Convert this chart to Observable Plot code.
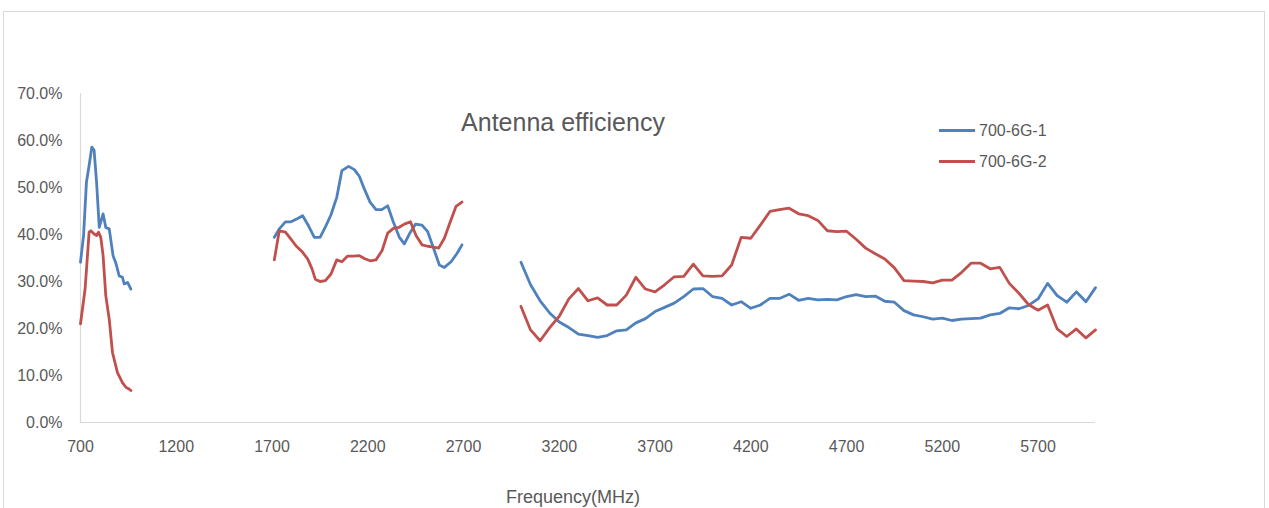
<!DOCTYPE html>
<html>
<head>
<meta charset="utf-8">
<script src="https://cdn.jsdelivr.net/npm/d3@7"></script>
<script src="https://cdn.jsdelivr.net/npm/@observablehq/plot@0.6"></script>
<style>
  html, body { margin: 0; padding: 0; background: #fff; }
  #wrap { position: relative; width: 1269px; height: 508px; overflow: hidden; font-family: "Liberation Sans", Arial, sans-serif; color: #595959; }
  #border { position: absolute; left: 3px; top: 11px; width: 1262px; height: 520px; border: 1px solid #d9d9d9; box-sizing: border-box; }
  #chart { position: absolute; left: 0; top: 0; }
  .title { position: absolute; left: 0; width: 1126px; top: 107px; text-align: center; font-size: 25px; line-height: 30px; white-space: nowrap; }
  .xlabel { position: absolute; left: 0; width: 1146px; top: 486px; text-align: center; font-size: 18px; line-height: 22px; white-space: nowrap; }
  .leg { position: absolute; left: 939px; height: 20px; font-size: 16px; line-height: 20px; white-space: nowrap; }
  .leg span.sw { display: inline-block; width: 36px; height: 3px; vertical-align: middle; margin-right: 4px; position: relative; top: -1px; }
</style>
</head>
<body>
<div id="wrap">
  <div id="border"></div>
  <div id="chart"></div>
  <div class="title">Antenna efficiency</div>
  <div class="xlabel">Frequency(MHz)</div>
  <div id="legend"></div>
</div>
<script>
// ---- Data (efficiency in %) ----
const seriesNames = ["700-6G-1", "700-6G-2"];
const seriesColors = ["#4F81BD", "#C0504D"];

// Band 1 (low band)
const freqBlue1 = [700,716,731,745,759,771,784,798,818,832,850,870,884,902,919,928,946,963];
const blue1     = [34.1,39.8,51.1,54.7,58.6,57.9,51.1,41.5,44.4,41.5,41.2,35.5,34.0,31.2,30.9,29.5,29.8,28.4];
const freqRed1  = [700,724,745,754,771,784,794,806,818,832,850,867,893,919,937,951,963];
const red1      = [21.0,28.4,40.5,40.8,40.1,39.8,40.5,39.4,35.5,27.0,22.0,14.9,10.6,8.5,7.5,7.2,6.8];

// Band 2 (mid band)
const freqBlue2 = [1712,1738,1770,1799,1834,1860,1890,1921,1951,1982,2008,2038,2065,2100,2130,2156,2182,2212,2243,2273,2304,2334,2365,2391,2417,2449,2483,2513,2539,2574,2600,2635,2665,2692];
const blue2     = [39.4,41.2,42.7,42.7,43.4,44.0,41.9,39.4,39.4,41.9,44.2,47.9,53.6,54.5,53.8,52.4,49.7,46.9,45.3,45.3,46.1,42.6,39.4,38.0,40.1,42.2,42.0,40.6,37.6,33.5,33.0,34.2,35.9,37.8];
const freqRed2  = [1712,1738,1770,1799,1825,1860,1886,1909,1926,1951,1979,2008,2038,2065,2095,2125,2156,2182,2212,2243,2275,2304,2334,2362,2391,2423,2452,2483,2513,2543,2570,2600,2630,2661,2692];
const red2      = [34.6,40.8,40.5,39.0,37.6,36.2,34.8,32.7,30.5,30.0,30.2,31.6,34.6,34.2,35.4,35.4,35.5,34.9,34.4,34.6,36.6,40.3,41.3,41.5,42.2,42.7,39.8,37.8,37.5,37.3,37.1,39.2,42.6,46.0,46.9];

// Band 3 (high band), 3000-6000 MHz step 50
const freq3 = [3000,3050,3100,3150,3200,3250,3300,3350,3400,3450,3500,3550,3600,3650,3700,3750,3800,3850,3900,3950,
               4000,4050,4100,4150,4200,4250,4300,4350,4400,4450,4500,4550,4600,4650,4700,4750,4800,4850,4900,4950,
               5000,5050,5100,5150,5200,5250,5300,5350,5400,5450,5500,5550,5600,5650,5700,5750,5800,5850,5900,5950,6000];
const blue3 = [34.1,29.3,25.9,23.3,21.4,20.2,18.8,18.5,18.1,18.5,19.5,19.7,21.2,22.1,23.6,24.5,25.4,26.8,28.4,28.5,
               26.8,26.4,25.0,25.7,24.3,25.0,26.4,26.4,27.3,26.0,26.4,26.1,26.2,26.1,26.8,27.2,26.8,26.9,25.8,25.6,
               23.8,22.9,22.5,22.0,22.2,21.7,22.0,22.1,22.2,22.9,23.2,24.4,24.2,24.9,26.3,29.6,27.0,25.6,27.8,25.7,28.7];
const red3  = [24.7,19.7,17.4,20.2,22.6,26.3,28.5,25.9,26.5,25.0,25.0,27.1,30.9,28.4,27.8,29.3,31.0,31.1,33.7,31.2,
               31.1,31.2,33.5,39.4,39.2,42.0,44.9,45.3,45.6,44.4,44.0,43.0,40.8,40.6,40.7,39.0,37.1,35.9,34.8,32.9,
               30.2,30.1,30.0,29.7,30.3,30.3,31.9,33.9,33.9,32.7,33.0,29.6,27.5,25.1,23.9,25.0,19.9,18.3,19.9,18.0,19.7];

const xTicks = [700,1200,1700,2200,2700,3200,3700,4200,4700,5200,5700];
const yTicks = [0,0.1,0.2,0.3,0.4,0.5,0.6,0.7];

// ---- Build rows ----
const segments = [
  {name: seriesNames[0], band: 1, f: freqBlue1, v: blue1},
  {name: seriesNames[0], band: 2, f: freqBlue2, v: blue2},
  {name: seriesNames[0], band: 3, f: freq3, v: blue3},
  {name: seriesNames[1], band: 1, f: freqRed1, v: red1},
  {name: seriesNames[1], band: 2, f: freqRed2, v: red2},
  {name: seriesNames[1], band: 3, f: freq3, v: red3}
];
const rows = segments.flatMap(s => s.f.map((f, i) => ({freq: f, eff: s.v[i] / 100, series: s.name, key: s.name + "-" + s.band})));

const chart = Plot.plot({
  width: 1269,
  height: 508,
  marginLeft: 80,
  marginRight: 174,
  marginTop: 93,
  marginBottom: 86,
  style: {fontFamily: '"Liberation Sans", Arial, sans-serif', fontSize: "16px", color: "#595959", background: "transparent", overflow: "visible"},
  x: {domain: [700, 6000], ticks: xTicks, tickFormat: d => String(d), tickSize: 0, tickPadding: 18, label: null},
  y: {domain: [0, 0.7], ticks: yTicks, tickFormat: d3.format(".1%"), tickSize: 0, tickPadding: 18, label: null},
  color: {domain: seriesNames, range: seriesColors},
  marks: [
    Plot.ruleY([0], {stroke: "#d9d9d9", strokeWidth: 1.2}),
    Plot.ruleX([700], {stroke: "#d9d9d9", strokeWidth: 1.2}),
    Plot.line(rows, {x: "freq", y: "eff", z: "key", stroke: "series", strokeWidth: 2.8, strokeLinejoin: "round", strokeLinecap: "round"})
  ]
});
document.getElementById("chart").appendChild(chart);

// ---- Legend ----
const legend = document.getElementById("legend");
seriesNames.forEach((n, i) => {
  const d = document.createElement("div");
  d.className = "leg";
  d.style.top = (121 + i * 31) + "px";
  d.innerHTML = `<span class="sw" style="background:${seriesColors[i]}"></span>${n}`;
  legend.appendChild(d);
});
</script>
</body>
</html>
